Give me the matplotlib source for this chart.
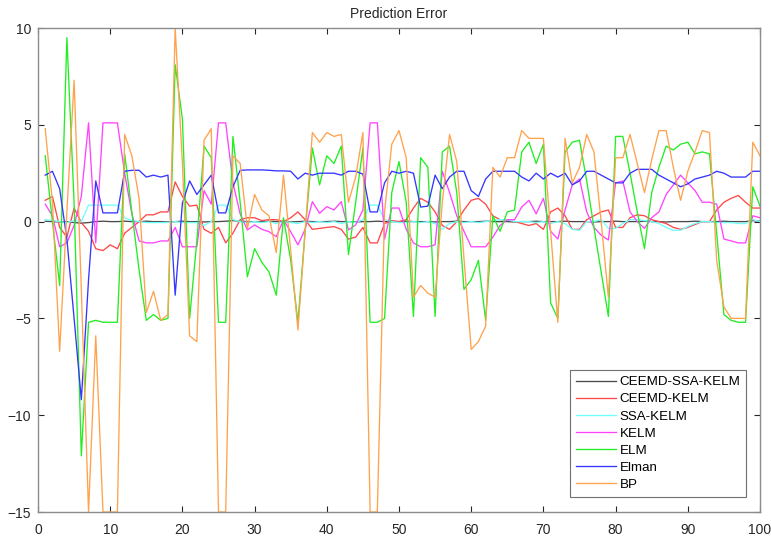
import numpy as np
import matplotlib
matplotlib.use('Agg')
import matplotlib.pyplot as plt

plt.rcParams['font.family'] = ['Liberation Sans', 'DejaVu Sans']

#===============================================================================
###  Data
#===============================================================================
x = np.arange(1, 101)

ceemd_ssa_kelm = [0.02, 0.0, -0.02, 0.0, -0.05, -0.08, -0.05, 0.0, 0.02, 0.0,
                  0.0, 0.02, 0.0, 0.0, 0.02, 0.0, 0.0, -0.02, 0.0, 0.02,
                  0.0, 0.0, -0.02, 0.0, 0.0, 0.02, 0.05, 0.02, 0.0, 0.0,
                  0.0, 0.02, 0.0, 0.0, -0.02, 0.0, 0.02, 0.0, 0.0, 0.0,
                  0.02, 0.0, 0.0, -0.02, 0.0, 0.0, 0.02, 0.0, 0.0, 0.0,
                  0.02, 0.0, 0.0, 0.0, -0.02, 0.0, 0.0, 0.02, 0.0, 0.0,
                  0.0, 0.02, 0.0, 0.0, 0.0, -0.02, 0.0, 0.0, 0.02, 0.0,
                  0.0, 0.0, 0.02, 0.0, 0.0, 0.0, -0.02, 0.0, 0.0, 0.02,
                  0.0, 0.0, 0.0, 0.02, 0.0, 0.0, -0.02, 0.0, 0.0, 0.0,
                  0.02, 0.0, 0.0, 0.0, 0.02, 0.0, 0.0, 0.0, 0.05, 0.02]

ceemd_kelm = [1.1, 1.3, -0.3, -0.8, 0.7, -0.05, -0.5, -1.4, -1.5, -1.2,
              -1.4, -0.6, -0.3, 0.0, 0.35, 0.35, 0.5, 0.5, 2.05, 1.3,
              0.8, 0.85, -0.4, -0.6, -0.3, -1.1, -0.6, 0.1, 0.2, 0.2,
              0.05, 0.1, 0.1, 0.0, 0.2, 0.5, 0.1, -0.4, -0.35, -0.3,
              -0.26, -0.4, -0.9, -0.8, -0.3, -1.1, -1.1, -0.1, 0.05, 0.0,
              0.1, 0.7, 1.2, 1.0, 0.5, -0.2, -0.4, 0.0, 0.6, 1.1,
              1.2, 0.9, 0.3, 0.1, 0.1, 0.0, -0.1, -0.2, -0.1, -0.4,
              0.5, 0.7, 0.3, -0.4, -0.4, 0.1, 0.3, 0.5, 0.6, -0.3,
              -0.3, 0.2, 0.35, 0.3, 0.1, 0.0, -0.1, -0.3, -0.4, -0.3,
              -0.15, 0.0, 0.0, 0.6, 1.0, 1.2, 1.35, 1.0, 0.7, 0.7]

ssa_kelm = [0.1, 0.05, 0.0, -0.05, 0.05, 0.0, 0.85, 0.85, 0.85, 0.85,
            0.85, 0.2, 0.05, 0.0, -0.05, -0.05, -0.05, -0.05, 0.0, -0.05,
            -0.05, -0.05, -0.2, 0.0, 0.85, 0.85, 0.1, 0.0, -0.05, 0.0,
            -0.05, 0.0, -0.1, 0.0, -0.05, -0.1, 0.0, -0.05, 0.0, -0.05,
            0.0, -0.1, 0.0, -0.05, 0.1, 0.85, 0.85, 0.1, 0.0, -0.05,
            -0.05, 0.0, -0.05, 0.0, -0.1, -0.4, -0.1, 0.0, -0.05, 0.0,
            -0.05, 0.0, 0.05, 0.1, 0.1, 0.0, 0.0, 0.0, -0.05, 0.0,
            -0.1, 0.0, -0.1, -0.4, -0.45, 0.0, 0.0, 0.1, -0.35, -0.35,
            -0.1, 0.1, 0.1, 0.05, 0.0, -0.1, -0.3, -0.45, -0.45, -0.25,
            -0.1, 0.0, 0.0, -0.05, -0.05, -0.05, -0.1, -0.1, 0.1, 0.0]

kelm = [0.9, 0.3, -1.3, -1.1, -0.2, 1.3, 5.1, -1.1, 5.1, 5.1,
        5.1, 2.5, 0.4, -1.0, -1.1, -1.1, -1.0, -1.0, -0.3, -1.3,
        -1.3, -1.3, 1.6, 0.9, 5.1, 5.1, 2.0, 0.4, -0.43, -0.17,
        -0.4, -0.52, -0.78, 0.08, -0.52, -1.2, -0.4, 1.03, 0.43, 0.77,
        0.6, 1.03, -0.43, -0.17, 0.6, 5.1, 5.1, -0.9, 0.7, 0.7,
        -0.4, -1.1, -1.3, -1.3, -1.2, 2.6, 1.5, 0.3, -0.5, -1.3,
        -1.3, -1.3, -0.8, -0.2, 0.1, 0.1, 0.75, 1.1, 0.4, 1.2,
        -0.5, -0.9, 0.6, 1.9, 2.2, 0.5, -0.3, -0.7, -0.95, 2.0,
        2.1, 0.5, 0.0, -0.35, 0.2, 0.5, 1.4, 1.9, 2.4, 2.0,
        1.6, 1.0, 1.0, 0.9, -0.9, -1.0, -1.1, -1.1, 0.3, 0.2]

elm = [3.4, 0.0, -3.3, 9.5, 1.0, -12.1, -5.2, -5.1, -5.2, -5.2,
       -5.2, 3.5, 0.5, -2.5, -5.1, -4.8, -5.1, -5.0, 8.1, 5.3,
       -5.0, -1.0, 3.9, 3.3, -5.2, -5.2, 4.4, 1.0, -2.85, -1.4,
       -2.1, -2.6, -3.8, 0.2, -2.0, -5.2, -0.5, 3.8, 1.9, 3.4,
       3.0, 3.9, -1.7, 1.0, 3.8, -5.2, -5.2, -5.0, 1.5, 3.1,
       1.0, -4.9, 3.3, 2.8, -4.9, 3.6, 3.9, 1.5, -3.5, -3.0,
       -2.0, -5.1, 0.3, -0.5, 0.5, 0.6, 3.6, 4.1, 3.0, 4.0,
       -4.2, -5.0, 3.6, 4.1, 4.2, 2.1, -0.3, -2.6, -4.9, 4.4,
       4.4, 2.5, 0.5, -1.4, 1.5, 2.8, 3.9, 3.7, 4.0, 4.1,
       3.5, 3.6, 3.5, -0.6, -4.8, -5.1, -5.2, -5.2, 1.8, 0.8]

elman = [2.4, 2.6, 1.7, -0.9, -5.0, -9.2, -3.0, 2.1, 0.45, 0.45,
         0.45, 2.6, 2.65, 2.65, 2.3, 2.4, 2.3, 2.4, -3.8, 0.95,
         2.1, 1.4, 1.9, 2.4, 0.45, 0.45, 1.8, 2.65, 2.67, 2.67,
         2.67, 2.65, 2.62, 2.62, 2.6, 2.2, 2.5, 2.4, 2.5, 2.5,
         2.5, 2.4, 2.6, 2.6, 2.45, 0.5, 0.5, 2.0, 2.6, 2.5,
         2.6, 2.5, 0.75, 0.8, 2.4, 1.7, 2.3, 2.6, 2.6, 1.6,
         1.3, 2.2, 2.6, 2.6, 2.6, 2.6, 2.3, 2.1, 2.5, 2.2,
         2.5, 2.3, 2.5, 1.9, 2.1, 2.6, 2.6, 2.4, 2.2, 2.0,
         2.0, 2.5, 2.7, 2.7, 2.7, 2.4, 2.2, 2.0, 1.8, 1.95,
         2.2, 2.3, 2.4, 2.6, 2.5, 2.3, 2.3, 2.3, 2.6, 2.6]

bp = [4.8, 1.0, -6.7, 0.5, 7.3, -3.5, -15, -5.9, -15, -15,
      -15, 4.5, 3.4, 1.2, -4.7, -3.6, -5.1, -4.8, 10, 3.0,
      -5.9, -6.2, 4.2, 4.8, -15, -15, 3.4, 3.0, -0.35, 1.4,
      0.6, 0.3, -1.6, 2.4, -1.5, -5.6, -0.5, 4.6, 4.1, 4.6,
      4.4, 4.5, 1.0, 2.3, 4.6, -15, -15, 0.5, 4.0, 4.7,
      3.3, -3.9, -3.3, -3.7, -3.9, 1.0, 4.5, 3.1, -1.9, -6.6,
      -6.2, -5.4, 2.8, 2.3, 3.3, 3.3, 4.7, 4.3, 4.3, 4.3,
      -0.5, -5.2, 4.3, 2.0, 2.8, 4.5, 3.6, 0.0, -3.9, 3.3,
      3.3, 4.5, 3.0, 1.5, 3.2, 4.7, 4.7, 2.8, 1.1, 2.6,
      3.6, 4.7, 4.6, -2.0, -4.4, -5.0, -5.0, -5.0, 4.1, 3.4]

names  = ['CEEMD-SSA-KELM', 'CEEMD-KELM', 'SSA-KELM', 'KELM', 'ELM', 'Elman', 'BP']
series = [ceemd_ssa_kelm, ceemd_kelm, ssa_kelm, kelm, elm, elman, bp]
colors = ['#4a4a4a', '#ff4848', '#70ffff', '#ff44ff', '#22ee22', '#3535ff', '#ffa24d']

#===============================================================================
###  Plot
#===============================================================================
fig = plt.figure(figsize=(7.71, 5.40), dpi=100)
ax = fig.add_axes([38/771, 1-512/540, 722/771, 484/540])

for s, c, n in zip(series, colors, names):
    ax.plot(x, s, color=c, lw=0.95, label=n)

ax.set_xlim(0, 100)
ax.set_ylim(-15, 10)
ax.set_xticks(np.arange(0, 101, 10))
ax.set_yticks(np.arange(-15, 11, 5))
ax.tick_params(direction='in', top=True, right=True, labelsize=10,
               colors='#262626', length=4, width=0.8)
ax.tick_params(axis='x', pad=8)
ax.tick_params(axis='y', pad=5)
for sp in ax.spines.values():
    sp.set_color('#8c8c8c')
    sp.set_linewidth(1.0)
ax.set_title('Prediction Error', fontsize=10, color='#262626', pad=7)

leg = ax.legend(loc='lower right', bbox_to_anchor=(0.9905, 0.017), fontsize=9.6,
                fancybox=False, edgecolor='#707070', framealpha=1,
                handlelength=3.0, handletextpad=0.3, labelspacing=0.36,
                borderpad=0.45)
leg.get_frame().set_linewidth(0.8)

fig.savefig('out.png', dpi=100)
